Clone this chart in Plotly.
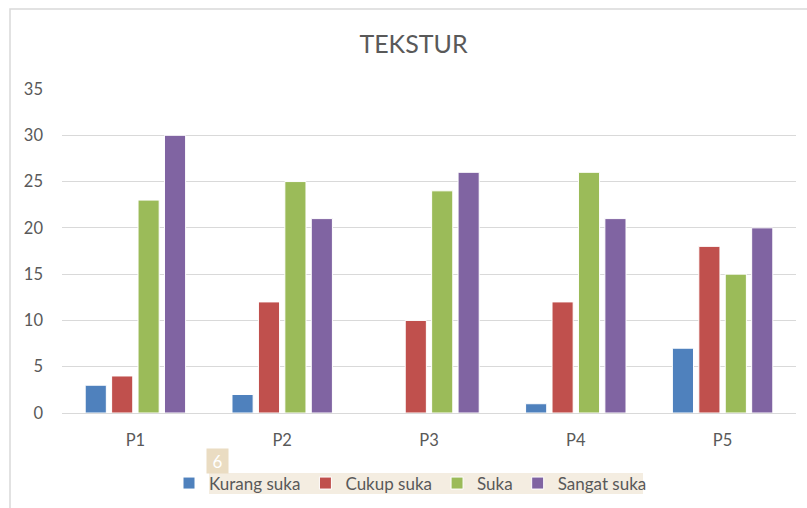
import plotly.graph_objects as go

categories = ["P1", "P2", "P3", "P4", "P5"]
kurang_suka = [3, 2, 0, 1, 7]
cukup_suka = [4, 12, 10, 12, 18]
suka = [23, 25, 24, 26, 15]
sangat_suka = [30, 21, 26, 21, 20]
series_names = ["Kurang suka", "Cukup suka", "Suka", "Sangat suka"]
y_ticks = [0, 5, 10, 15, 20, 25, 30, 35]

colors = ["#4F81BD", "#C0504D", "#9BBB59", "#8064A2"]
FONT = "Lato, 'Open Sans', sans-serif"

fig = go.Figure()
for name, vals, c in zip(series_names, [kurang_suka, cukup_suka, suka, sangat_suka], colors):
    fig.add_trace(go.Bar(x=categories, y=vals, name=name,
                         marker=dict(color=c, line=dict(color="white", width=1))))

W, H = 807, 508
L, R, T, B = 62, 11, 89, 95
pw, ph = W - L - R, H - T - B

def px(x):
    return (x - L) / pw

def py(y):
    return (H - B - y) / ph

fig.update_layout(
    width=W, height=H,
    margin=dict(l=L, r=R, t=T, b=B, autoexpand=False),
    paper_bgcolor="white", plot_bgcolor="white",
    font=dict(family=FONT, color="#595959", size=16),
    title=dict(text="TEKSTUR", x=413.5 / W, xanchor="center", y=1 - 44 / H, yanchor="middle",
               font=dict(family=FONT, size=25, color="#595959")),
    barmode="group", bargap=0.28, bargroupgap=0.2,
    xaxis=dict(showgrid=False, showline=False, ticks="", tickfont=dict(size=16.5, color="#595959"),
               ticklabelstandoff=15),
    yaxis=dict(range=[0, 35], tickvals=y_ticks, showgrid=True, gridcolor="#D9D9D9", gridwidth=1,
               zeroline=True, zerolinecolor="#D9D9D9", zerolinewidth=1,
               showline=False, ticks="", tickfont=dict(size=16.5, color="#595959"),
               ticklabelstandoff=18),
    legend=dict(orientation="h", x=px(169), xanchor="left", y=py(483.5), yanchor="middle",
                bgcolor="rgba(0,0,0,0)", font=dict(size=17, color="#595959"),
                traceorder="normal"),
    shapes=[
        dict(type="rect", xref="paper", yref="paper", x0=px(10), x1=px(830), y0=py(530), y1=py(9),
             line=dict(color="#D9D9D9", width=1.5), fillcolor="rgba(0,0,0,0)", layer="below"),
        dict(type="rect", xref="paper", yref="paper", x0=px(209), x1=px(643), y0=py(494), y1=py(473),
             line=dict(width=0), fillcolor="#F4EDE1", layer="below"),
    ],
    annotations=[
        dict(text="6", xref="paper", yref="paper", x=px(217.5), y=py(461), xanchor="center", yanchor="middle",
             showarrow=False, bgcolor="#EADCC2", width=19, height=22,
             font=dict(family=FONT, size=17, color="white")),
    ],
)

fig.write_html("out.html", config={"displayModeBar": False},
               post_script="document.body.style.margin='0';")
